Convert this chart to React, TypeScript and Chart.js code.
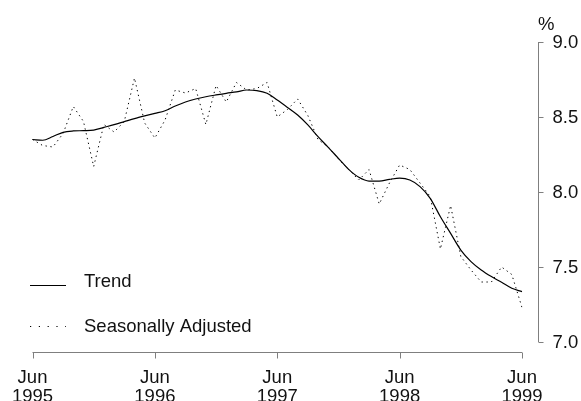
import React, { useEffect, useRef } from "react";
import { Chart, registerables } from "chart.js";

Chart.register(...registerables);

const monthNames = ["Jan", "Feb", "Mar", "Apr", "May", "Jun", "Jul", "Aug", "Sep", "Oct", "Nov", "Dec"];
const months: string[] = [];
for (let k = 0; k < 49; k++) {
  const m = (5 + k) % 12;
  const yr = 1995 + Math.floor((5 + k) / 12);
  months.push(`${monthNames[m]} ${yr}`);
}

const trend = [
  8.35, 8.345, 8.37, 8.398, 8.407, 8.409, 8.413, 8.431, 8.449, 8.469, 8.489, 8.507,
  8.524, 8.542, 8.573, 8.6, 8.62, 8.635, 8.647, 8.658, 8.667, 8.68, 8.676, 8.658,
  8.613, 8.564, 8.513, 8.447, 8.369, 8.298, 8.224, 8.151, 8.098, 8.073, 8.073, 8.084,
  8.092, 8.08, 8.036, 7.958, 7.835, 7.724, 7.613, 7.536, 7.48, 7.436, 7.398, 7.358,
  7.336,
];

const seasonallyAdjusted = [
  8.35, 8.31, 8.3, 8.39, 8.57, 8.47, 8.17, 8.45, 8.4, 8.47, 8.76, 8.46,
  8.36, 8.48, 8.68, 8.66, 8.69, 8.45, 8.71, 8.6, 8.73, 8.68, 8.69, 8.73,
  8.5, 8.55, 8.62, 8.51, 8.35, 8.3, 8.22, 8.15, 8.08, 8.15, 7.92, 8.06,
  8.18, 8.15, 8.06, 7.97, 7.62, 7.91, 7.57, 7.48, 7.4, 7.4, 7.5, 7.45,
  7.23,
];

const xTickIndices = [0, 12, 24, 36, 48];
const xTickLabels = [
  ["Jun", "1995"],
  ["Jun", "1996"],
  ["Jun", "1997"],
  ["Jun", "1998"],
  ["Jun", "1999"],
];
const yTicks = [7.0, 7.5, 8.0, 8.5, 9.0];
const yUnit = "%";

const FONT = '18.5px "Liberation Sans", Arial, sans-serif';
const AXIS_COLOR = "#7f7f7f";
const TEXT_COLOR = "#111111";

const rangeFramePlugin = {
  id: "rangeFrame",
  afterDraw(chart: any) {
    const { ctx, chartArea } = chart;
    const xs = chart.scales.x;
    const ys = chart.scales.y;
    ctx.save();
    ctx.strokeStyle = AXIS_COLOR;
    ctx.lineWidth = 1;

    // x axis
    const axY = Math.round(chartArea.bottom + 10) + 0.5;
    const x0 = xs.getPixelForValue(xTickIndices[0]);
    const x1 = xs.getPixelForValue(xTickIndices[xTickIndices.length - 1]);
    ctx.beginPath();
    ctx.moveTo(x0, axY);
    ctx.lineTo(x1, axY);
    xTickIndices.forEach((i) => {
      const px = Math.round(xs.getPixelForValue(i)) + 0.5;
      ctx.moveTo(px, axY);
      ctx.lineTo(px, axY + 6);
    });
    ctx.stroke();

    // y axis
    const axX = Math.round(chartArea.right + 16) + 0.5;
    const yTop = ys.getPixelForValue(yTicks[yTicks.length - 1]);
    const yBot = ys.getPixelForValue(yTicks[0]);
    ctx.beginPath();
    ctx.moveTo(axX, yTop);
    ctx.lineTo(axX, yBot);
    yTicks.forEach((v) => {
      const py = Math.round(ys.getPixelForValue(v)) + 0.5;
      ctx.moveTo(axX, py);
      ctx.lineTo(axX + 5, py);
    });
    ctx.stroke();

    ctx.fillStyle = TEXT_COLOR;
    ctx.font = FONT;
    // x labels
    ctx.textAlign = "center";
    ctx.textBaseline = "alphabetic";
    xTickIndices.forEach((i, k) => {
      const px = xs.getPixelForValue(i);
      ctx.fillText(xTickLabels[k][0], px, axY + 30);
      ctx.fillText(xTickLabels[k][1], px, axY + 49);
    });
    // y labels
    ctx.textAlign = "left";
    ctx.textBaseline = "middle";
    yTicks.forEach((v) => {
      const py = ys.getPixelForValue(v);
      ctx.fillText(v.toFixed(1), axX + 14, py + 1);
    });
    ctx.textBaseline = "alphabetic";
    ctx.fillText(yUnit, axX - 0.5, yTop - 12);

    // legend
    const ds = chart.data.datasets;
    const legendRows = [285.5, 326.5];
    ds.forEach((d: any, k: number) => {
      const ly = legendRows[k];
      ctx.beginPath();
      ctx.strokeStyle = d.borderColor;
      ctx.lineWidth = d.borderWidth;
      ctx.setLineDash(k === 0 ? [] : [1.2, 7.6]);
      ctx.moveTo(30, ly);
      ctx.lineTo(66, ly);
      ctx.stroke();
      ctx.setLineDash([]);
      ctx.fillStyle = TEXT_COLOR;
      ctx.fillText(d.label, 84, ly + (k === 0 ? 1.5 : 5));
    });
    ctx.restore();
  },
};

export default function App() {
  const ref = useRef<HTMLCanvasElement | null>(null);
  useEffect(() => {
    if (!ref.current) return;
    const chart = new Chart(ref.current, {
      type: "line",
      data: {
        labels: months,
        datasets: [
          {
            label: "Trend",
            data: trend,
            borderColor: "#000000",
            borderWidth: 1.2,
            pointRadius: 0,
            tension: 0.4,
            cubicInterpolationMode: "monotone",
            fill: false,
          },
          {
            label: "Seasonally Adjusted",
            data: seasonallyAdjusted,
            borderColor: "#000000",
            borderWidth: 1,
            borderDash: [1.3, 3.6],
            pointRadius: 0,
            tension: 0,
            fill: false,
          },
        ],
      },
      options: {
        responsive: false,
        animation: false,
        devicePixelRatio: 1,
        layout: { padding: { left: 32.5, right: 59, top: 42, bottom: 59 } },
        scales: {
          x: { type: "category", display: false, offset: false },
          y: { type: "linear", display: false, min: 7, max: 9 },
        },
        plugins: { legend: { display: false }, tooltip: { enabled: false } },
      },
      plugins: [rangeFramePlugin],
    } as any);
    return () => chart.destroy();
  }, []);
  return (
    <div style={{ position: "fixed", left: 0, top: 0, width: 581, height: 401, background: "#fff" }}>
      <canvas ref={ref} width={581} height={401} style={{ display: "block" }} />
    </div>
  );
}
